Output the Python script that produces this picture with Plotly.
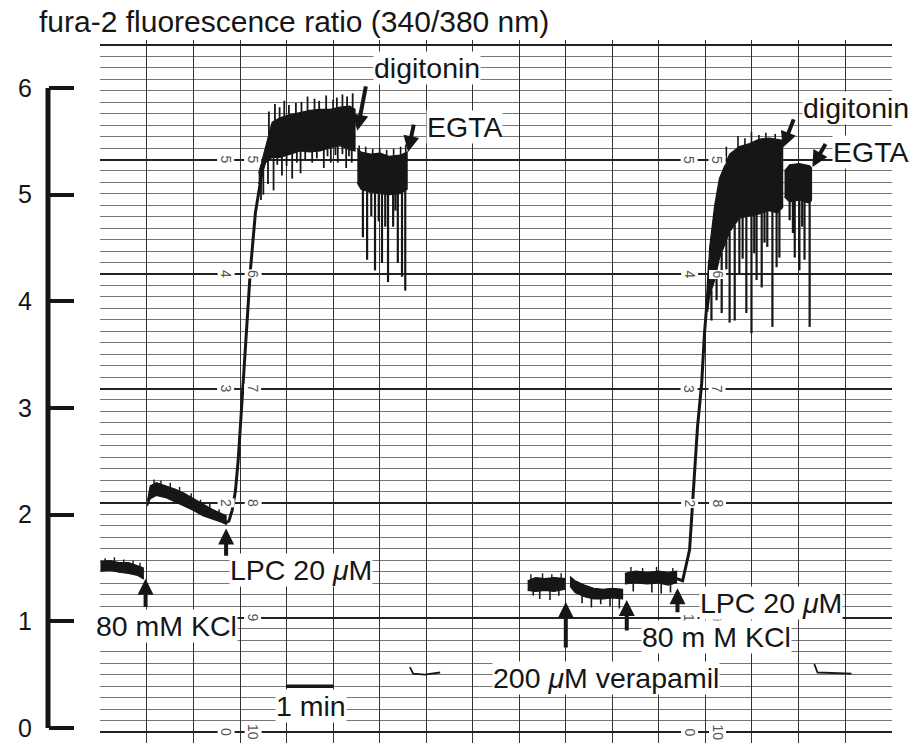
import numpy as np
import plotly.graph_objects as go

# ---------------- data (time in min, fura-2 ratio) ----------------
# Experiment 1
base1_t = [0.0, 0.2, 0.4, 0.6, 0.8, 0.92]
base1_hi = [1.56, 1.57, 1.55, 1.55, 1.52, 1.50]
base1_lo = [1.47, 1.48, 1.46, 1.45, 1.43, 1.40]
base1_sp_t = [0.10, 0.30, 0.50, 0.70, 0.85]
base1_sp_r = [1.59, 1.60, 1.58, 1.57, 1.55]

kcl1_t = [1.01, 1.07, 1.2, 1.4, 1.6, 1.8, 2.0, 2.2, 2.4, 2.6, 2.70]
kcl1_hi = [2.13, 2.27, 2.30, 2.27, 2.24, 2.20, 2.15, 2.10, 2.05, 2.01, 1.99]
kcl1_lo = [2.08, 2.15, 2.18, 2.16, 2.12, 2.08, 2.04, 1.99, 1.96, 1.93, 1.91]
kcl1_sp_t = [1.15, 1.30, 1.50, 1.70, 1.95, 2.15, 2.35, 2.55]
kcl1_sp_r = [2.33, 2.32, 2.30, 2.26, 2.20, 2.14, 2.10, 2.05]

rise1_t = [2.68, 2.76, 2.83, 2.90, 2.96, 3.03, 3.09, 3.15, 3.22, 3.33, 3.48, 3.61, 3.69]
rise1_r = [1.92, 1.94, 2.04, 2.22, 2.51, 3.00, 3.40, 3.82, 4.28, 4.83, 5.23, 5.48, 5.62]

plat1_t = [3.40, 3.55, 3.69, 3.86, 4.08, 4.29, 4.50, 4.72, 4.94, 5.15, 5.36, 5.47]
plat1_hi = [5.20, 5.45, 5.68, 5.72, 5.75, 5.77, 5.79, 5.80, 5.80, 5.82, 5.83, 5.80]
plat1_lo = [5.10, 5.30, 5.35, 5.35, 5.38, 5.41, 5.40, 5.41, 5.44, 5.46, 5.42, 5.41]
plat1_up_t = [3.62, 3.75, 3.85, 3.95, 4.05, 4.20, 4.32, 4.45, 4.60, 4.70, 4.85, 5.00,
              5.08, 5.20, 5.30, 5.42]
plat1_up_r = [5.78, 5.85, 5.82, 5.88, 5.84, 5.86, 5.87, 5.92, 5.90, 5.88, 5.93, 5.89,
              5.91, 5.94, 5.92, 5.95]
plat1_dn_t = [3.45, 3.50, 3.60, 3.72, 3.80, 3.90, 4.00, 4.12, 4.22, 4.30, 4.40, 4.55,
              4.65, 4.80, 4.88, 4.95, 5.05, 5.10, 5.20, 5.28, 5.34, 5.40]
plat1_dn_r = [4.95, 5.00, 5.10, 5.04, 5.28, 5.18, 5.27, 5.15, 5.30, 5.20, 5.33, 5.30,
              5.34, 5.25, 5.36, 5.30, 5.37, 5.30, 5.38, 5.25, 5.36, 5.30]

dig1_t = [5.52, 5.60, 5.80, 6.01, 6.20, 6.44, 6.59]
dig1_hi = [5.43, 5.40, 5.38, 5.39, 5.36, 5.37, 5.40]
dig1_lo = [5.11, 5.05, 5.02, 5.01, 5.00, 5.01, 5.05]
dig1_dn_t = [5.64, 5.73, 5.82, 5.90, 5.98, 6.05, 6.12, 6.18, 6.29, 6.34, 6.39, 6.48, 6.55]
dig1_dn_r = [4.60, 4.39, 4.80, 4.29, 4.75, 4.36, 4.70, 4.18, 4.70, 4.85, 4.36, 4.23, 4.10]
dig1_up_t = [5.56, 5.70, 5.85, 6.00, 6.15, 6.30, 6.45, 6.56]
dig1_up_r = [5.46, 5.45, 5.43, 5.44, 5.42, 5.43, 5.45, 5.47]

egta1_t = [6.65, 6.72, 6.97, 7.30]
egta1_r = [0.57, 0.51, 0.50, 0.52]

# Experiment 2
ctl2_t = [9.18, 9.35, 9.55, 9.75, 9.98]
ctl2_hi = [1.38, 1.41, 1.40, 1.41, 1.40]
ctl2_lo = [1.29, 1.28, 1.29, 1.28, 1.30]
ctl2_dn_t = [9.30, 9.44, 9.66, 9.85]
ctl2_dn_r = [1.24, 1.21, 1.20, 1.24]
ctl2_up_t = [9.25, 9.50, 9.70, 9.90]
ctl2_up_r = [1.44, 1.45, 1.44, 1.45]

ver2_t = [10.09, 10.20, 10.40, 10.60, 10.80, 11.00, 11.22]
ver2_hi = [1.42, 1.38, 1.34, 1.31, 1.30, 1.31, 1.30]
ver2_lo = [1.33, 1.27, 1.23, 1.21, 1.21, 1.22, 1.21]
ver2_dn_t = [10.35, 10.55, 10.75, 10.95, 11.15]
ver2_dn_r = [1.17, 1.13, 1.16, 1.14, 1.12]

kcl2_t = [11.27, 11.50, 11.75, 12.00, 12.20, 12.38]
kcl2_hi = [1.45, 1.47, 1.46, 1.47, 1.46, 1.47]
kcl2_lo = [1.35, 1.36, 1.35, 1.36, 1.34, 1.36]
kcl2_dn_t = [11.45, 11.85, 12.05, 12.25]
kcl2_dn_r = [1.28, 1.27, 1.26, 1.27]
kcl2_up_t = [11.40, 11.65, 11.95, 12.30]
kcl2_up_r = [1.51, 1.50, 1.51, 1.50]

rise2_t = [12.38, 12.51, 12.66, 12.73, 12.83, 12.92, 12.98, 13.05, 13.09]
rise2_r = [1.40, 1.38, 1.67, 2.13, 2.82, 3.23, 3.70, 4.08, 4.39]

plat2_t = [13.05, 13.09, 13.20, 13.30, 13.52, 13.73, 13.95, 14.16, 14.37, 14.55, 14.66]
plat2_hi = [4.10, 4.50, 4.90, 5.15, 5.38, 5.45, 5.48, 5.52, 5.53, 5.52, 5.51]
plat2_lo = [3.90, 4.05, 4.20, 4.40, 4.65, 4.78, 4.80, 4.82, 4.85, 4.83, 4.88]
plat2_up_t = [13.45, 13.70, 13.85, 13.99, 14.15, 14.30, 14.50]
plat2_up_r = [5.45, 5.55, 5.53, 5.59, 5.56, 5.58, 5.57]
plat2_dn_t = [13.13, 13.24, 13.35, 13.45, 13.52, 13.63, 13.73, 13.80, 13.88, 13.99, 14.05,
              14.10, 14.21, 14.27, 14.33, 14.44, 14.53, 14.59]
plat2_dn_r = [3.82, 4.01, 3.89, 4.30, 3.80, 3.82, 4.26, 4.40, 3.89, 3.70, 4.45, 4.20,
              4.13, 4.55, 4.51, 3.76, 4.32, 4.41]

dig2_t = [14.70, 14.81, 15.02, 15.24, 15.28]
dig2_hi = [5.22, 5.28, 5.29, 5.27, 5.25]
dig2_lo = [4.98, 4.93, 4.95, 4.92, 4.95]
dig2_dn_t = [14.81, 14.88, 14.92, 15.02, 15.08, 15.13, 15.24]
dig2_dn_r = [4.76, 4.64, 4.41, 4.29, 4.70, 4.39, 3.76]

egta2_t = [15.34, 15.41, 16.14]
egta2_r = [0.60, 0.52, 0.51]

y_ticks = [0, 1, 2, 3, 4, 5, 6]
paper_units = [0, 1, 2, 3, 4, 5]

INK = "#161616"
FONT = "Liberation Sans, Arial, Helvetica, sans-serif"

fig = go.Figure()

# dummy trace to activate the recorder-paper axis (y2)
fig.add_trace(go.Scatter(x=[0], y=[0], yaxis="y2", mode="markers",
                         marker=dict(opacity=0), hoverinfo="skip", showlegend=False))


def band(t, hi, lo):
    fig.add_trace(go.Scatter(x=list(t) + list(t[::-1]), y=list(hi) + list(lo[::-1]),
                             fill="toself", fillcolor=INK, mode="lines",
                             line=dict(color=INK, width=1.2), hoverinfo="skip",
                             showlegend=False))


def spikes(t_band, edge, st, sr, width=1.6):
    xs, ys = [], []
    for t, r in zip(st, sr):
        e = float(np.interp(t, t_band, edge))
        xs += [t, t, None]
        ys += [e, r, None]
    fig.add_trace(go.Scatter(x=xs, y=ys, mode="lines", line=dict(color=INK, width=width),
                             hoverinfo="skip", showlegend=False))


def line(t, r, width=2.6):
    fig.add_trace(go.Scatter(x=t, y=r, mode="lines", line=dict(color=INK, width=width),
                             hoverinfo="skip", showlegend=False))


band(base1_t, base1_hi, base1_lo)
spikes(base1_t, base1_hi, base1_sp_t, base1_sp_r, 1.4)
band(kcl1_t, kcl1_hi, kcl1_lo)
spikes(kcl1_t, kcl1_hi, kcl1_sp_t, kcl1_sp_r, 1.4)
line(rise1_t, rise1_r, 3)
band(plat1_t, plat1_hi, plat1_lo)
spikes(plat1_t, plat1_hi, plat1_up_t, plat1_up_r, 1.8)
spikes(plat1_t, plat1_lo, plat1_dn_t, plat1_dn_r, 1.8)
band(dig1_t, dig1_hi, dig1_lo)
spikes(dig1_t, dig1_hi, dig1_up_t, dig1_up_r, 1.6)
spikes(dig1_t, dig1_lo, dig1_dn_t, dig1_dn_r, 2.2)
line(egta1_t, egta1_r, 1.8)

band(ctl2_t, ctl2_hi, ctl2_lo)
spikes(ctl2_t, ctl2_lo, ctl2_dn_t, ctl2_dn_r)
spikes(ctl2_t, ctl2_hi, ctl2_up_t, ctl2_up_r, 1.4)
band(ver2_t, ver2_hi, ver2_lo)
spikes(ver2_t, ver2_lo, ver2_dn_t, ver2_dn_r)
band(kcl2_t, kcl2_hi, kcl2_lo)
spikes(kcl2_t, kcl2_lo, kcl2_dn_t, kcl2_dn_r)
spikes(kcl2_t, kcl2_hi, kcl2_up_t, kcl2_up_r, 1.4)
line(rise2_t, rise2_r, 3)
band(plat2_t, plat2_hi, plat2_lo)
spikes(plat2_t, plat2_hi, plat2_up_t, plat2_up_r)
spikes(plat2_t, plat2_lo, plat2_dn_t, plat2_dn_r, 2.2)
band(dig2_t, dig2_hi, dig2_lo)
spikes(dig2_t, dig2_lo, dig2_dn_t, dig2_dn_r, 2.2)
line(egta2_t, egta2_r, 1.8)

annotations = []

# recorder paper scale numbers (rotated)
for gx1, gx2 in [(2.70, 3.28), (12.66, 13.26)]:
    for k in paper_units:
        for gx, txt in [(gx1, str(k)), (gx2, str(10 - k))]:
            annotations.append(dict(x=gx, y=k, xref="x", yref="y2", text=txt, textangle=90,
                                    showarrow=False, font=dict(family=FONT, size=14, color="#555"),
                                    bgcolor="white", borderpad=0))

# arrows: (tip_t, tip_r, tail_t, tail_r)
arrows = [
    (0.97, 1.40, 0.97, 1.12),
    (2.70, 1.87, 2.70, 1.60),
    (5.52, 5.60, 5.71, 6.03),
    (6.61, 5.40, 6.74, 5.67),
    (10.00, 1.18, 10.00, 0.74),
    (11.31, 1.20, 11.31, 0.90),
    (12.40, 1.31, 12.40, 1.07),
    (14.66, 5.44, 14.91, 5.72),
    (15.30, 5.26, 15.60, 5.49),
]
for x, y, ax, ay in arrows:
    annotations.append(dict(x=x, y=y, ax=ax, ay=ay, xref="x", yref="y", axref="x", ayref="y",
                            text="", showarrow=True, arrowhead=2, arrowsize=0.8,
                            arrowwidth=4, arrowcolor=INK, standoff=0))

labels = [
    ("80 mM KCl", 1.42, 0.96),
    ("LPC 20 <i>μ</i>M", 4.31, 1.48),
    ("digitonin", 7.02, 6.19),
    ("EGTA", 7.83, 5.63),
    ("1 min", 4.53, 0.21),
    ("200 <i>μ</i>M verapamil", 10.86, 0.47),
    ("80 m M KCl", 13.24, 0.85),
    ("LPC 20 <i>μ</i>M", 14.40, 1.17),
    ("digitonin", 16.24, 5.81),
    ("EGTA", 16.55, 5.40),
]
for txt, x, y in labels:
    annotations.append(dict(x=x, y=y, xref="x", yref="y", text=txt, showarrow=False,
                            font=dict(family=FONT, size=28.5, color=INK),
                            bgcolor="white", borderpad=0))

annotations.append(dict(x=-0.013, y=1.0, xref="paper", yref="paper", xanchor="left",
                        yanchor="bottom", text="fura-2 fluorescence ratio (340/380 nm)",
                        showarrow=False, font=dict(family=FONT, size=30, color=INK)))

shapes = [
    dict(type="line", xref="paper", yref="y", x0=0, x1=0, y0=0, y1=6,
         line=dict(color=INK, width=5)),
    dict(type="line", xref="x", yref="y", x0=3.99, x1=5.0, y0=0.39, y1=0.39,
         line=dict(color=INK, width=3.5)),
]

fig.update_layout(
    width=916, height=743,
    margin=dict(l=48, r=24, t=40, b=0),
    paper_bgcolor="white", plot_bgcolor="white",
    showlegend=False,
    font=dict(family=FONT, color=INK),
    xaxis=dict(domain=[0.0616, 1], range=[-0.01, 17.01], showgrid=True, gridcolor="#333",
               gridwidth=1, dtick=1, tick0=0, showticklabels=False, ticks="",
               zeroline=False, showline=False),
    yaxis=dict(range=[-0.141, 6.45], anchor="free", position=0, showgrid=False,
               zeroline=False, showline=False, ticks="inside", ticklen=25, tickwidth=3.5,
               tickcolor=INK, tickvals=y_ticks, ticklabelstandoff=16,
               tickfont=dict(family=FONT, size=25, color=INK)),
    yaxis2=dict(overlaying="y", anchor="x", side="right", range=[-0.096, 6.044],
                showgrid=True, gridcolor="#222", gridwidth=1.8, dtick=1, tick0=0,
                showticklabels=False, ticks="", zeroline=False, showline=False,
                minor=dict(dtick=0.1, tick0=0, showgrid=True, gridcolor="#777", gridwidth=0.8)),
    annotations=annotations,
    shapes=shapes,
)

fig.write_html("out.html")
